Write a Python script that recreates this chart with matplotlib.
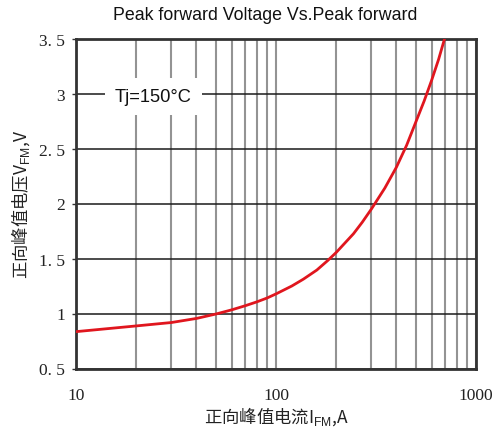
import matplotlib
matplotlib.use("Agg")
import matplotlib.pyplot as plt
from matplotlib.ticker import FixedLocator, NullFormatter

plt.rcParams['font.family'] = ['Noto Sans CJK SC', 'DejaVu Sans']
plt.rcParams['mathtext.fontset'] = 'custom'
plt.rcParams['mathtext.rm'] = 'Liberation Sans'

# Data
current_a = [10, 20, 30, 40, 50, 60, 70, 80, 90, 100, 120, 137, 160, 181, 200,
             244, 270, 300, 350, 400, 450, 500, 550, 600, 650, 697]
voltage_v = [0.835, 0.887, 0.918, 0.955, 0.995, 1.033, 1.07, 1.105, 1.14, 1.178,
             1.25, 1.312, 1.395, 1.48, 1.555, 1.725, 1.83, 1.95, 2.14, 2.33,
             2.53, 2.74, 2.93, 3.12, 3.31, 3.5]

x_major = [10, 100, 1000]
x_major_labels = ["10", "100", "1000"]
x_minor = [20, 30, 40, 50, 60, 70, 80, 90, 200, 300, 400, 500, 600, 700, 800, 900]
y_ticks = [0.5, 1.0, 1.5, 2.0, 2.5, 3.0, 3.5]
y_labels = ["0. 5", "1", "1. 5", "2", "2. 5", "3", "3. 5"]

W, H = 494, 435
fig = plt.figure(figsize=(W / 100, H / 100), dpi=100)
left, right, top, bottom = 76, 476, 39.5, 369.5
ax = fig.add_axes([left / W, 1 - bottom / H, (right - left) / W, (bottom - top) / H])

ax.set_xscale('log')
ax.set_xlim(10, 1000)
ax.set_ylim(0.5, 3.5)

ax.xaxis.set_major_locator(FixedLocator(x_major))
ax.xaxis.set_minor_locator(FixedLocator(x_minor))
ax.xaxis.set_minor_formatter(NullFormatter())
ax.set_xticklabels(x_major_labels)
ax.set_yticks(y_ticks)
ax.set_yticklabels(y_labels)

for lab in ax.get_xticklabels() + ax.get_yticklabels():
    lab.set_family('Liberation Serif')
    lab.set_fontsize(12.5)
    lab.set_color('#222222')

ax.tick_params(axis='x', which='both', length=0, pad=13)
ax.tick_params(axis='y', which='both', length=3, width=1, pad=5, color='#333333')

# grid
ax.grid(True, axis='x', which='both', color='#939393', linewidth=1.5, zorder=1)
ax.grid(True, axis='y', which='major', color='#1a1a1a', linewidth=1.1, zorder=1)

for sp in ax.spines.values():
    sp.set_linewidth(2)
    sp.set_color('#333333')

ax.plot(current_a, voltage_v, color='#e0161e', linewidth=2.0, zorder=3,
        solid_capstyle='round', solid_joinstyle='round')

ax.text(24.3, 2.97, "Tj=150°C", fontsize=13.2, family='Liberation Sans', color='#111111',
        ha='center', va='center', zorder=4,
        bbox=dict(boxstyle='square,pad=0.55', facecolor='white', edgecolor='none'))

fig.text(265 / W, 1 - 15 / H, "Peak forward Voltage Vs.Peak forward", ha='center', va='center',
         fontsize=12.8, family='Liberation Sans', color='#111111')

ax.set_xlabel("正向峰值电流I$_{\\rm FM}$,A", fontsize=12.5, color='#222222', labelpad=1)
ax.set_ylabel("正向峰值电压V$_{\\rm FM}$,V", fontsize=12.5, color='#222222', labelpad=5)

fig.savefig("out.png", dpi=100, facecolor='white')
